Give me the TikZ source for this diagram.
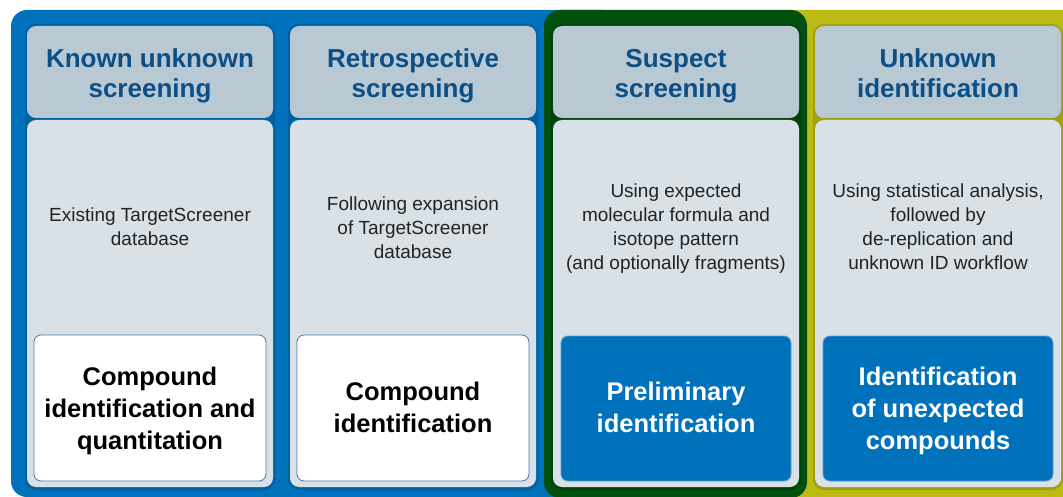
\documentclass[tikz,border=0pt]{standalone}
\usepackage{fontspec}
\setmainfont{Liberation Sans}
\definecolor{bgblue}{HTML}{0071BB}
\definecolor{bggreen}{HTML}{00500F}
\definecolor{bgyellow}{HTML}{BCBB15}
\definecolor{headfill}{HTML}{B8C9D3}
\definecolor{bodyfill}{HTML}{D9E1E7}
\definecolor{headtext}{HTML}{0B4F86}
\definecolor{bodytext}{HTML}{222222}
\definecolor{boxedge}{HTML}{3A78AE}
\definecolor{blueedge}{HTML}{5A9BD0}
\tikzset{
  header/.style={fill=headfill, rounded corners=9pt, minimum width=246pt, minimum height=92pt, inner sep=0pt},
  headlabel/.style={align=center, text=headtext, font=\fontsize{26}{30}\selectfont\bfseries, inner sep=0pt},
  bodybox/.style={fill=bodyfill, rounded corners=9pt, minimum width=246pt, minimum height=367pt, inner sep=0pt},
  bodylabel/.style={align=center, text=bodytext, font=\fontsize{19}{24}\selectfont, inner sep=0pt},
  whitebox/.style={fill=white, draw=boxedge, line width=0.8pt, rounded corners=7pt, minimum width=232pt,
    minimum height=146pt, inner sep=0pt},
  bluebox/.style={fill=bgblue, draw=blueedge, line width=0.8pt, rounded corners=7pt, minimum width=230pt,
    minimum height=145pt, inner sep=0pt},
  resultlabel/.style={align=center, font=\fontsize{25.5}{32}\selectfont\bfseries, inner sep=0pt},
  colshadow/.style={fill=black, opacity=0.14, rounded corners=11pt}
}
\begin{document}
\begin{tikzpicture}[x=1pt,y=-1pt]
\useasboundingbox (0,0) rectangle (1063,497);
\begin{scope}
\clip (0,0) rectangle (1063,497);
\fill[bgblue, rounded corners=16pt] (11,10) rectangle (620,497);
\fill[bgyellow, rounded corners=16pt] (780,10) rectangle (1090,497);
\fill[bggreen, rounded corners=16pt] (544,10) rectangle (807,498);
\foreach \cx in {150,413,676,938}{
  \fill[colshadow] (\cx-125,24) rectangle (\cx+125,490);
}
\end{scope}
% column 1
\node[bodybox] (b1) at (150,303.5) {};
\node[header] (h1) at (150,72) {};
\node[headlabel] (l1) at (150,76) {Known unknown\\screening};
\node[bodylabel] (t1) at (150,227) {Existing TargetScreener\\database};
\node[whitebox] (r1) at (150,408) {};
\node[resultlabel, text=black] (s1) at (150,411) {Compound\\identification and\\quantitation};
% column 2
\node[bodybox] (b2) at (413,303.5) {};
\node[header] (h2) at (413,72) {};
\node[headlabel] (l2) at (413,76) {Retrospective\\screening};
\node[bodylabel] (t2) at (413,228) {Following expansion\\of TargetScreener\\database};
\node[whitebox] (r2) at (413,408) {};
\node[resultlabel, text=black] (s2) at (413,407.5) {Compound\\identification};
% column 3
\node[bodybox] (b3) at (676,303.5) {};
\node[header] (h3) at (676,72) {};
\node[headlabel] (l3) at (676,76) {Suspect\\screening};
\node[bodylabel] (t3) at (676,229) {Using expected\\molecular formula and\\isotope pattern\\(and optionally fragments)};
\node[bluebox] (r3) at (676,408.5) {};
\node[resultlabel, text=white] (s3) at (676,407.5) {Preliminary\\identification};
% column 4
\node[bodybox] (b4) at (938,303.5) {};
\node[header] (h4) at (938,72) {};
\node[headlabel] (l4) at (938,73) {Unknown\\identification};
\node[bodylabel] (t4) at (938,227) {Using statistical analysis,\\followed by\\de-replication and\\unknown ID workflow};
\node[bluebox] (r4) at (938,408.5) {};
\node[resultlabel, text=white] (s4) at (938,410.5) {Identification\\of unexpected\\compounds};
\end{tikzpicture}
\end{document}
